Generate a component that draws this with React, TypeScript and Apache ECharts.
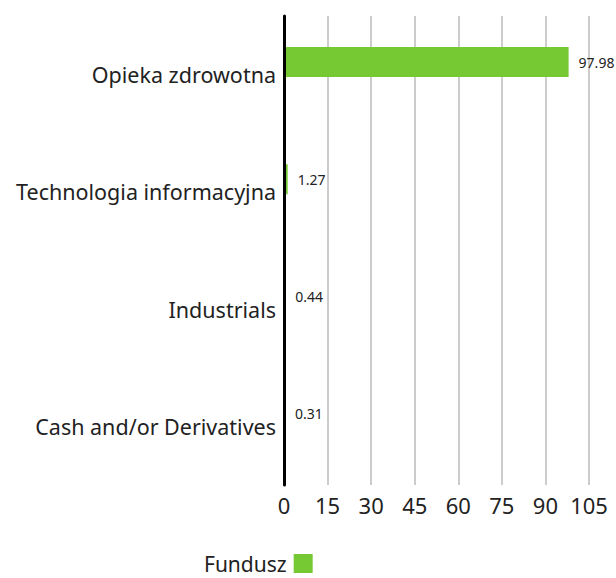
import React, { useEffect, useRef } from "react";
import * as echarts from "echarts";

const categories = ["Opieka zdrowotna", "Technologia informacyjna", "Industrials", "Cash and/or Derivatives"];
const fundValues = [97.98, 1.27, 0.44, 0.31];
const emptyValues: (number | null)[] = [null, null, null, null];
const seriesName = "Fundusz";

export default function App() {
  const ref = useRef<HTMLDivElement>(null);
  useEffect(() => {
    document.body.style.margin = "0";
    const chart = echarts.init(ref.current!, null, { renderer: "svg" });
    const font = "'Noto Sans', sans-serif";
    chart.setOption({
      animation: false,
      grid: { left: 284, right: 27, top: 16, bottom: 93 },
      legend: {
        data: [seriesName],
        left: 204,
        top: 553,
        padding: 0,
        align: "right",
        itemWidth: 19,
        itemHeight: 19,
        icon: "rect",
        textStyle: { fontFamily: font, fontSize: 21, color: "#222", lineHeight: 19, padding: [0, 2, 0, 0] },
      },
      xAxis: {
        type: "value",
        min: 0,
        max: 105,
        interval: 15,
        axisLine: { show: false },
        axisTick: { show: false },
        axisLabel: { fontFamily: font, fontSize: 22, color: "#222", margin: 9 },
        splitLine: { show: true, lineStyle: { color: "#cccccc", width: 2 } },
      },
      yAxis: {
        type: "category",
        inverse: true,
        data: categories,
        z: 5,
        axisLine: { show: true, lineStyle: { color: "#000", width: 3 } },
        axisTick: { show: false },
        axisLabel: { fontFamily: font, fontSize: 21.5, color: "#222", margin: 8 },
        splitLine: { show: false },
      },
      series: [
        {
          name: seriesName,
          type: "bar",
          data: fundValues,
          barWidth: 30,
          barGap: "-16%",
          z: 2,
          itemStyle: { color: "#76c933" },
          label: {
            show: true,
            position: "right",
            distance: 10,
            fontFamily: font,
            fontSize: 14,
            color: "#222",
            formatter: (p: any) => p.value.toFixed(2),
          },
        },
        {
          name: "Benchmark",
          type: "bar",
          data: emptyValues,
          barWidth: 30,
          itemStyle: { color: "#000" },
        },
      ],
    });
    return () => chart.dispose();
  }, []);
  return <div ref={ref} style={{ width: 616, height: 578 }} />;
}
